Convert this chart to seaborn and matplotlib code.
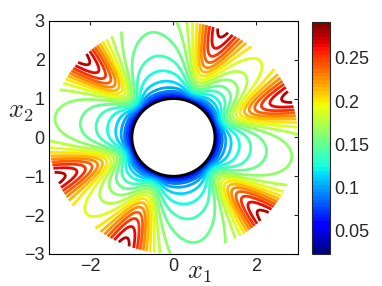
import numpy as np
import matplotlib
matplotlib.use("Agg")
import matplotlib.pyplot as plt
import seaborn as sns
from matplotlib.colors import Normalize
from matplotlib.cm import ScalarMappable

sns.set_style("white")
plt.rcParams['font.family'] = ['Liberation Sans', 'DejaVu Sans']
plt.rcParams['mathtext.fontset'] = 'cm'

# high-value lobes: angle (deg) and height at the rim
lobe_angle = [137, 67, 20, -43, -113, -160]
lobe_height = [0.187, 0.177, 0.177, 0.187, 0.177, 0.177]
core_width, tail_width, tail_share = 11, 34, 0.4   # degrees

# level between the lobes, going out from the circle
base_min, base_rise, base_slope = 0.023, 0.068, 0.008

v_min, v_max = 0.0234, 0.2916
n_levels = 20
cbar_ticks = [0.05, 0.1, 0.15, 0.2, 0.25]
cbar_labels = ['0.05', '0.1', '0.15', '0.2', '0.25']

# field on the annulus 1 <= r <= 3
r = np.linspace(1, 3, 240)
th = np.linspace(-np.pi, np.pi, 1081)
R, T = np.meshgrid(r, th)
X = R * np.cos(T)
Y = R * np.sin(T)
deg = np.degrees(T)

V = base_min + base_rise * (1 - np.exp(-(R - 1) / 0.12)) + base_slope * (R - 1)
ramp = np.tanh((R - 1) / 1.15)
for a, h in zip(lobe_angle, lobe_height):
    d = (deg - a + 180) % 360 - 180
    shape = (1 - tail_share) * np.exp(-(d / core_width) ** 2) + tail_share * np.exp(-(d / tail_width) ** 2)
    V += h * ramp * shape

levels = np.linspace(v_min, v_max, n_levels + 2)[1:-1]
norm = Normalize(v_min, v_max)
cmap = plt.get_cmap('jet', 64)

fig = plt.figure(figsize=(3.82, 2.86), dpi=100)
ax = fig.add_axes([0.128, 0.112, 0.652, 0.815])
ax.contour(X, Y, V, levels=levels, cmap=cmap, norm=norm, linewidths=2)
ax.add_patch(plt.Circle((0, 0), 1, facecolor='white', edgecolor='black', lw=2, zorder=5))
ax.set_xlim(-3, 3)
ax.set_ylim(-3, 3)
ax.set_xticks([-2, 0, 2])
ax.set_yticks([-3, -2, -1, 0, 1, 2, 3])
ax.tick_params(direction='in', length=3, labelsize=13, top=True, right=True, pad=3)
for sp in ax.spines.values():
    sp.set_color('black')
    sp.set_linewidth(0.8)

fig.text(199 / 382, 1 - 279 / 286, '$x_1$', fontsize=19, ha='center', va='baseline')
fig.text(21 / 382, 1 - 112 / 286, '$x_2$', fontsize=19, ha='center', va='center')

cax = fig.add_axes([0.817, 0.112, 0.047, 0.811])
cb = fig.colorbar(ScalarMappable(norm=norm, cmap=cmap), cax=cax, ticks=cbar_ticks)
cb.ax.set_yticklabels(cbar_labels)
cb.ax.tick_params(direction='in', length=3, labelsize=13, left=True, right=True, pad=3)
cb.outline.set_linewidth(0.8)

fig.savefig('out.png', dpi=100)
